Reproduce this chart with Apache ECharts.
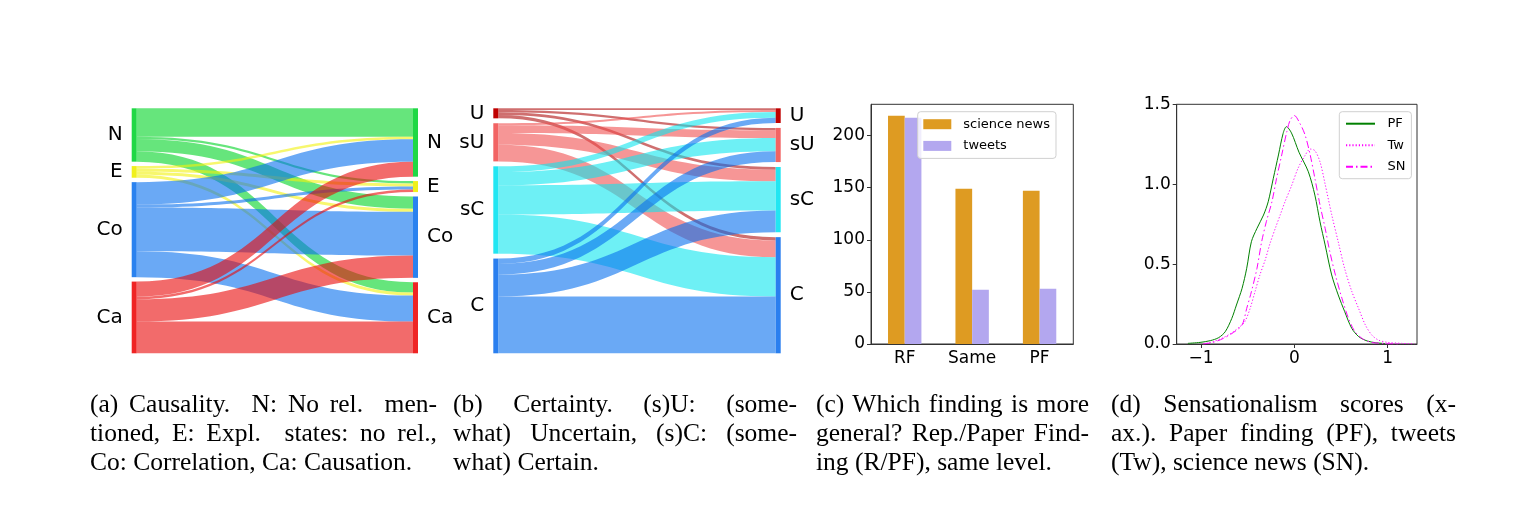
<!DOCTYPE html>
<html>
<head>
<meta charset="utf-8">
<title>news vs paper findings</title>
<script src="https://cdn.jsdelivr.net/npm/echarts@6/dist/echarts.min.js"></script>
<style>
  body { margin: 0; background: #fff; }
  #chart { position: absolute; left: 0; top: 0; width: 1514px; height: 506px; }
  .cap { position: absolute; top: 389px; font-family: "Liberation Serif", "Times New Roman", serif; font-size: 25.5px; line-height: 29px; color: #000; }
  .cap div { text-align: justify; text-align-last: justify; }
  .cap div.last { text-align-last: left; }
</style>
</head>
<body>
<div id="chart"></div>

<div class="cap" style="left: 90px; width: 347px;">
  <div>(a) Causality.&nbsp; N: No rel.&nbsp; men-</div>
  <div>tioned, E: Expl.&nbsp; states: no rel.,</div>
  <div class="last">Co: Correlation, Ca: Causation.</div>
</div>
<div class="cap" style="left: 453px; width: 344px;">
  <div>(b) Certainty. (s)U: (some-</div>
  <div>what) Uncertain, (s)C: (some-</div>
  <div class="last">what) Certain.</div>
</div>
<div class="cap" style="left: 816px; width: 273px;">
  <div>(c) Which finding is more</div>
  <div>general? Rep./Paper Find-</div>
  <div class="last">ing (R/PF), same level.</div>
</div>
<div class="cap" style="left: 1111px; width: 345px;">
  <div>(d) Sensationalism scores (x-</div>
  <div>ax.). Paper finding (PF), tweets</div>
  <div class="last">(Tw), science news (SN).</div>
</div>

<script>
  // (a) causality: paper finding (left) -> news (right)
  const causeNames = ["N", "E", "Co", "Ca"];
  const causeFlows = [
    [85, 7, 37, 31],
    [8, 9, 9, 9],
    [67, 9, 131, 78],
    [45, 8, 67, 95],
  ];

  // (b) certainty
  const certNames = ["U", "sU", "sC", "C"];
  const certFlows = [
    [5, 7, 8, 10],
    [6, 23, 35, 50],
    [17, 40, 87, 117],
    [16, 32, 65, 170],
  ];

  // (c) which finding is more general
  const findingCats = ["RF", "Same", "PF"];
  const newsCounts = [219, 149, 147];
  const tweetCounts = [217, 52, 53];

  // (d) sensationalism score densities
  const pfX = [-1.14, -1.01, -0.9, -0.81, -0.74, -0.67, -0.62, -0.56, -0.51, -0.46, -0.4, -0.33, -0.28, -0.225, -0.17, -0.12, -0.085, -0.03, 0.05, 0.15, 0.22, 0.275, 0.33, 0.4, 0.47, 0.54, 0.615, 0.69, 0.78, 0.87, 0.97];
  const pfY = [0.004, 0.01, 0.021, 0.04, 0.077, 0.16, 0.244, 0.348, 0.474, 0.64, 0.724, 0.807, 0.89, 1.037, 1.183, 1.318, 1.36, 1.32, 1.2, 1.078, 0.932, 0.765, 0.62, 0.432, 0.307, 0.202, 0.098, 0.046, 0.019, 0.008, 0.003];
  const twX = [-0.975, -0.87, -0.76, -0.67, -0.58, -0.53, -0.475, -0.42, -0.37, -0.31, -0.26, -0.2, -0.15, -0.1, -0.03, 0.04, 0.115, 0.17, 0.22, 0.275, 0.33, 0.4, 0.47, 0.54, 0.615, 0.69, 0.76, 0.83, 0.9, 1.0, 1.15, 1.29];
  const twY = [0, 0.015, 0.04, 0.07, 0.11, 0.14, 0.22, 0.33, 0.43, 0.53, 0.63, 0.73, 0.81, 0.89, 0.99, 1.1, 1.18, 1.22, 1.21, 1.14, 1.0, 0.81, 0.64, 0.47, 0.33, 0.22, 0.12, 0.056, 0.025, 0.01, 0.004, 0];
  const snX = [-0.975, -0.87, -0.76, -0.65, -0.56, -0.51, -0.46, -0.4, -0.35, -0.3, -0.24, -0.19, -0.135, -0.08, -0.045, 0, 0.06, 0.115, 0.17, 0.22, 0.275, 0.33, 0.38, 0.44, 0.51, 0.58, 0.65, 0.74, 0.83, 0.97, 1.11];
  const snY = [0, 0.01, 0.035, 0.073, 0.119, 0.223, 0.327, 0.474, 0.64, 0.765, 0.89, 1.037, 1.183, 1.33, 1.4, 1.43, 1.38, 1.308, 1.183, 1.037, 0.87, 0.724, 0.578, 0.432, 0.286, 0.161, 0.077, 0.029, 0.01, 0.002, 0];

  const causeNodeColors = ["#1fd845", "#f0f01c", "#2a82ef", "#ef2424"];
  const causeLinkColors = ["rgb(0,212,37)", "rgb(242,242,13)", "rgb(7,112,238)", "rgb(233,8,8)"];
  const certNodeColors = ["#c00000", "#f26464", "#22e6f2", "#2a7fef"];
  const certLinkColors = ["rgb(175,15,15)", "rgb(240,80,80)", "rgb(13,230,238)", "rgb(7,112,238)"];

  const font = "DejaVu Sans";
  const axisColor = "#333";

  function zip(xs, ys) {
    return xs.map(function (x, i) { return [x, ys[i]]; });
  }

  function sankeySeries(names, flows, nodeColors, linkColors, box) {
    const nodes = [];
    names.forEach(function (n, i) {
      nodes.push({name: "src_" + n, itemStyle: {color: nodeColors[i]}, label: {position: "left"}});
    });
    names.forEach(function (n, i) {
      nodes.push({name: "dst_" + n, itemStyle: {color: nodeColors[i]}, label: {position: "right"}});
    });
    const links = [];
    flows.forEach(function (row, i) {
      row.forEach(function (v, j) {
        links.push({
          source: "src_" + names[i],
          target: "dst_" + names[j],
          value: v,
          lineStyle: {color: linkColors[i]},
        });
      });
    });
    return {
      type: "sankey",
      left: box.left,
      top: box.top,
      width: box.width,
      height: box.height,
      nodeWidth: 5,
      nodeGap: box.gap,
      layoutIterations: 0,
      draggable: false,
      emphasis: {disabled: true},
      itemStyle: {borderWidth: 0},
      lineStyle: {opacity: 0.6, curveness: 0.5},
      label: {
        fontFamily: font,
        fontSize: 20,
        color: "#000",
        distance: 9,
        formatter: function (p) {
          return p.name.split("_")[1];
        },
      },
      data: nodes,
      links: links,
    };
  }

  const chart = echarts.init(document.getElementById("chart"));
  chart.setOption({
    animation: false,
    backgroundColor: "#fff",
    textStyle: {fontFamily: font},
    grid: [
      {left: 871, top: 104.3, width: 202.3, height: 239.7, show: true, borderColor: axisColor, borderWidth: 1},
      {left: 1176.7, top: 104.3, width: 240.3, height: 239.7, show: true, borderColor: axisColor, borderWidth: 1},
    ],
    legend: [
      {
        data: ["science news", "tweets"],
        orient: "vertical",
        left: 917.7,
        top: 111.7,
        padding: [5.5, 6, 5.5, 5.6],
        itemWidth: 28,
        itemHeight: 10,
        itemGap: 7.7,
        icon: "rect",
        selectedMode: false,
        backgroundColor: "rgba(255,255,255,0.8)",
        borderColor: "#d0d0d0",
        borderWidth: 1,
        borderRadius: 3,
        textStyle: {fontSize: 13, color: "#000", lineHeight: 14, padding: [0, 0, 0, 7]},
      },
      {
        data: ["PF", "Tw", "SN"],
        orient: "vertical",
        left: 1339.3,
        top: 111.7,
        padding: [5, 6, 5, 5.7],
        itemWidth: 29,
        itemHeight: 10,
        itemGap: 7.5,
        selectedMode: false,
        backgroundColor: "rgba(255,255,255,0.8)",
        borderColor: "#d0d0d0",
        borderWidth: 1,
        borderRadius: 3,
        // hide the marker that echarts puts on line legend icons
        itemStyle: {color: "rgba(0,0,0,0)", borderWidth: 0, opacity: 0},
        textStyle: {fontSize: 13, color: "#000", lineHeight: 14, padding: [0, 0, 0, 7.4]},
      },
    ],
    xAxis: [
      {
        gridIndex: 0,
        type: "category",
        data: findingCats,
        axisLine: {lineStyle: {color: axisColor}},
        axisTick: {alignWithLabel: true, length: 4, lineStyle: {color: axisColor}},
        axisLabel: {fontSize: 17, color: "#000", margin: 6},
      },
      {
        gridIndex: 1,
        type: "value",
        min: -1.26,
        max: 1.314,
        splitLine: {show: false},
        axisLine: {show: true, onZero: false, lineStyle: {color: axisColor}},
        axisTick: {show: true, length: 4, customValues: [-1, 0, 1], lineStyle: {color: axisColor}},
        axisLabel: {
          fontSize: 17,
          color: "#000",
          margin: 6,
          customValues: [-1, 0, 1],
          formatter: function (v) {
            return v < 0 ? "\u2212" + Math.abs(v) : String(v);
          },
        },
      },
    ],
    yAxis: [
      {
        gridIndex: 0,
        type: "value",
        min: 0,
        max: 230,
        splitLine: {show: false},
        axisLine: {show: true, onZero: false, lineStyle: {color: axisColor}},
        axisTick: {show: true, length: 4, customValues: [0, 50, 100, 150, 200], lineStyle: {color: axisColor}},
        axisLabel: {fontSize: 17, color: "#000", margin: 6, customValues: [0, 50, 100, 150, 200]},
      },
      {
        gridIndex: 1,
        type: "value",
        min: 0,
        max: 1.5,
        interval: 0.5,
        splitLine: {show: false},
        axisLine: {show: true, onZero: false, lineStyle: {color: axisColor}},
        axisTick: {show: true, length: 4, lineStyle: {color: axisColor}},
        axisLabel: {
          fontSize: 17,
          color: "#000",
          margin: 6,
          formatter: function (v) {
            return v.toFixed(1);
          },
        },
      },
    ],
    series: [
      sankeySeries(causeNames, causeFlows, causeNodeColors, causeLinkColors,
        {left: 131.7, top: 108.3, width: 286.3, height: 245, gap: 4.4}),
      sankeySeries(certNames, certFlows, certNodeColors, certLinkColors,
        {left: 493.3, top: 108.3, width: 287.4, height: 245, gap: 4.9}),
      {
        name: "science news",
        type: "bar",
        xAxisIndex: 0,
        yAxisIndex: 0,
        data: newsCounts,
        barWidth: 16.7,
        barGap: "0%",
        itemStyle: {color: "#de9b22"},
      },
      {
        name: "tweets",
        type: "bar",
        xAxisIndex: 0,
        yAxisIndex: 0,
        data: tweetCounts,
        barWidth: 16.7,
        barGap: "0%",
        itemStyle: {color: "#b3a7ef"},
      },
      {
        name: "PF",
        type: "line",
        xAxisIndex: 1,
        yAxisIndex: 1,
        data: zip(pfX, pfY),
        symbol: "none",
        smooth: 0.3,
        lineStyle: {color: "#008000", width: 1},
        itemStyle: {color: "#008000"},
      },
      {
        name: "Tw",
        type: "line",
        xAxisIndex: 1,
        yAxisIndex: 1,
        data: zip(twX, twY),
        symbol: "none",
        smooth: 0.3,
        lineStyle: {color: "#ff00ff", width: 1, type: [1.2, 2]},
        itemStyle: {color: "#ff00ff"},
      },
      {
        name: "SN",
        type: "line",
        xAxisIndex: 1,
        yAxisIndex: 1,
        data: zip(snX, snY),
        symbol: "none",
        smooth: 0.3,
        lineStyle: {color: "#ff00ff", width: 1, type: [7, 3, 1.5, 3]},
        itemStyle: {color: "#ff00ff"},
      },
    ],
  });
</script>
</body>
</html>
